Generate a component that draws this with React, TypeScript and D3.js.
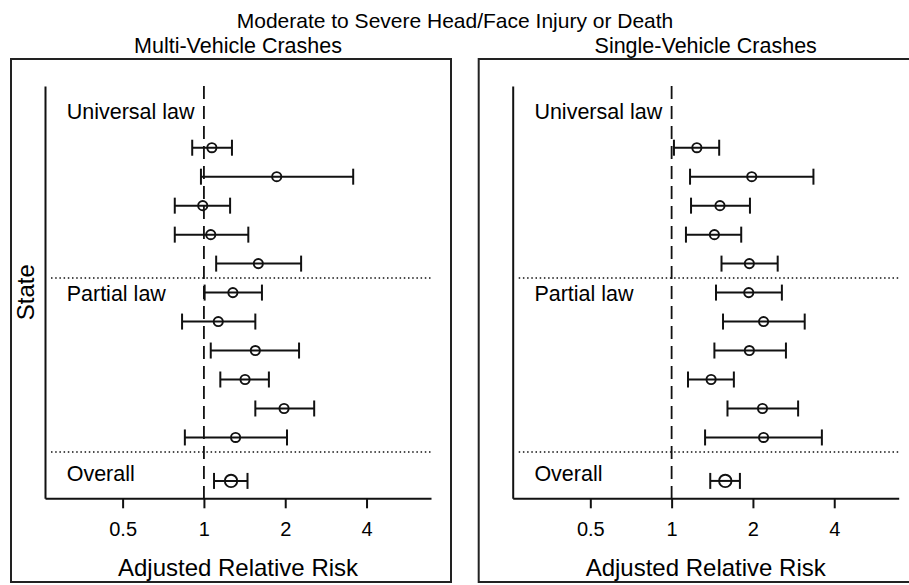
import { useRef, useEffect } from 'react';
import * as d3 from 'd3';

const width = 909;
const height = 585;
const font = "'Liberation Sans', Arial, Helvetica, sans-serif";

const mainTitle = "Moderate to Severe Head/Face Injury or Death";
const panelTitles = ["Multi-Vehicle Crashes", "Single-Vehicle Crashes"];
const groupLabels = ["Universal law", "Partial law", "Overall"];
const groupLabelRows = [-1, 5.28, 11.5];
const separatorRows = [4.5, 10.5];
// row position of each estimate: 5 universal-law states, 6 partial-law states, overall
const rows = [0, 1, 2, 3, 4, 5, 6, 7, 8, 9, 10, 11.5];
const xTicks = [0.5, 1, 2, 4];

const multiEst = [1.07, 1.86, 0.99, 1.06, 1.59, 1.28, 1.13, 1.55, 1.42, 1.98, 1.31, 1.26];
const multiLow = [0.905, 0.975, 0.78, 0.78, 1.11, 1.006, 0.83, 1.06, 1.15, 1.55, 0.85, 1.09];
const multiHigh = [1.27, 3.57, 1.25, 1.46, 2.29, 1.64, 1.55, 2.25, 1.74, 2.56, 2.03, 1.45];

const singleEst = [1.24, 1.98, 1.51, 1.44, 1.94, 1.93, 2.19, 1.94, 1.40, 2.17, 2.19, 1.58];
const singleLow = [1.02, 1.17, 1.18, 1.13, 1.53, 1.46, 1.55, 1.44, 1.15, 1.61, 1.33, 1.39];
const singleHigh = [1.50, 3.35, 1.95, 1.81, 2.47, 2.56, 3.11, 2.65, 1.70, 2.94, 3.60, 1.79];

const panels = [
    { title: panelTitles[0], est: multiEst, low: multiLow, high: multiHigh, boxLeft: 11, plotLeft: 45, showState: true },
    { title: panelTitles[1], est: singleEst, low: singleLow, high: singleHigh, boxLeft: 478.7, plotLeft: 512.7, showState: false },
];

const plotWidth = 386;
const plotTop = 86;
const plotBottom = 498.3;
const boxTop = 59;
const boxBottom = 582;
const boxWidth = 440;

const App = () => {
    const ref = useRef(null);

    useEffect(() => {
        if (!ref.current) return;
        const svg = d3.select(ref.current);
        svg.selectAll("*").remove();

        svg.append("rect").attr("width", width).attr("height", height).attr("fill", "white");

        svg.append("text")
            .attr("x", 455).attr("y", 28.3)
            .attr("text-anchor", "middle")
            .style("font-family", font).style("font-size", "21px")
            .text(mainTitle);

        const y = d3.scaleLinear().domain([-2.13, 12.1]).range([plotTop, plotBottom]);

        panels.forEach(p => {
            const x = d3.scaleLog().base(2)
                .domain([0.258, 6.93])
                .range([p.plotLeft, p.plotLeft + plotWidth]);
            const cx = p.plotLeft + plotWidth / 2;

            const g = svg.append("g");

            // outer box
            g.append("rect")
                .attr("x", p.boxLeft).attr("y", boxTop)
                .attr("width", boxWidth).attr("height", boxBottom - boxTop)
                .attr("fill", "none").attr("stroke", "#222").attr("stroke-width", 2);

            g.append("text")
                .attr("x", cx).attr("y", 53.3)
                .attr("text-anchor", "middle")
                .style("font-family", font).style("font-size", "21.5px")
                .text(p.title);

            // x axis
            const xAxis = d3.axisBottom(x)
                .tickValues(xTicks)
                .tickFormat(d => String(d))
                .tickSize(10).tickSizeOuter(0).tickPadding(14);
            const xg = g.append("g")
                .attr("transform", `translate(0, ${plotBottom})`)
                .call(xAxis);
            xg.selectAll("path, line").attr("stroke", "#111").attr("stroke-width", 2);
            xg.selectAll("text")
                .attr("fill", "#000")
                .style("font-family", font).style("font-size", "20px");

            // y axis (line only)
            const yg = g.append("g")
                .attr("transform", `translate(${p.plotLeft}, 0)`)
                .call(d3.axisLeft(y).tickValues([]).tickSizeOuter(0));
            yg.selectAll("path").attr("stroke", "#111").attr("stroke-width", 2);

            // reference line at 1
            g.append("line")
                .attr("x1", x(1)).attr("x2", x(1))
                .attr("y1", plotTop).attr("y2", plotBottom)
                .attr("stroke", "#111").attr("stroke-width", 1.8)
                .attr("stroke-dasharray", "13,7");

            // group separators
            g.selectAll(".sep").data(separatorRows).enter()
                .append("line")
                .attr("x1", p.plotLeft + 6).attr("x2", p.plotLeft + plotWidth)
                .attr("y1", d => y(d)).attr("y2", d => y(d))
                .attr("stroke", "#111").attr("stroke-width", 1.5)
                .attr("stroke-dasharray", "1.5,2.7");

            // group labels
            g.selectAll(".glab").data(groupLabels).enter()
                .append("text")
                .attr("x", p.plotLeft + 21.7)
                .attr("y", (d, i) => y(groupLabelRows[i]))
                .style("font-family", font).style("font-size", "21.5px")
                .text(d => d);

            // error bars
            const bars = g.selectAll(".bar").data(rows).enter().append("g");
            bars.append("line")
                .attr("x1", (d, i) => x(p.low[i])).attr("x2", (d, i) => x(p.high[i]))
                .attr("y1", d => y(d)).attr("y2", d => y(d))
                .attr("stroke", "#111").attr("stroke-width", 2);
            bars.append("line")
                .attr("x1", (d, i) => x(p.low[i])).attr("x2", (d, i) => x(p.low[i]))
                .attr("y1", d => y(d) - 8).attr("y2", d => y(d) + 8)
                .attr("stroke", "#111").attr("stroke-width", 2);
            bars.append("line")
                .attr("x1", (d, i) => x(p.high[i])).attr("x2", (d, i) => x(p.high[i]))
                .attr("y1", d => y(d) - 8).attr("y2", d => y(d) + 8)
                .attr("stroke", "#111").attr("stroke-width", 2);
            bars.append("circle")
                .attr("cx", (d, i) => x(p.est[i]))
                .attr("cy", d => y(d))
                .attr("r", (d, i) => i === rows.length - 1 ? 6.2 : 4.6)
                .attr("fill", "none").attr("stroke", "#111").attr("stroke-width", 1.9);

            // axis title
            g.append("text")
                .attr("x", cx).attr("y", 576)
                .attr("text-anchor", "middle")
                .style("font-family", font).style("font-size", "24px")
                .text("Adjusted Relative Risk");

            if (p.showState) {
                g.append("text")
                    .attr("transform", `translate(26, ${(plotTop + plotBottom) / 2}) rotate(-90)`)
                    .attr("text-anchor", "middle")
                    .attr("dy", "0.35em")
                    .style("font-family", font).style("font-size", "24px")
                    .text("State");
            }
        });
    }, []);

    return (
        <svg
            ref={ref}
            width={width}
            height={height}
            style={{ position: "absolute", left: 0, top: 0, display: "block" }}
        ></svg>
    );
};

export default App;
